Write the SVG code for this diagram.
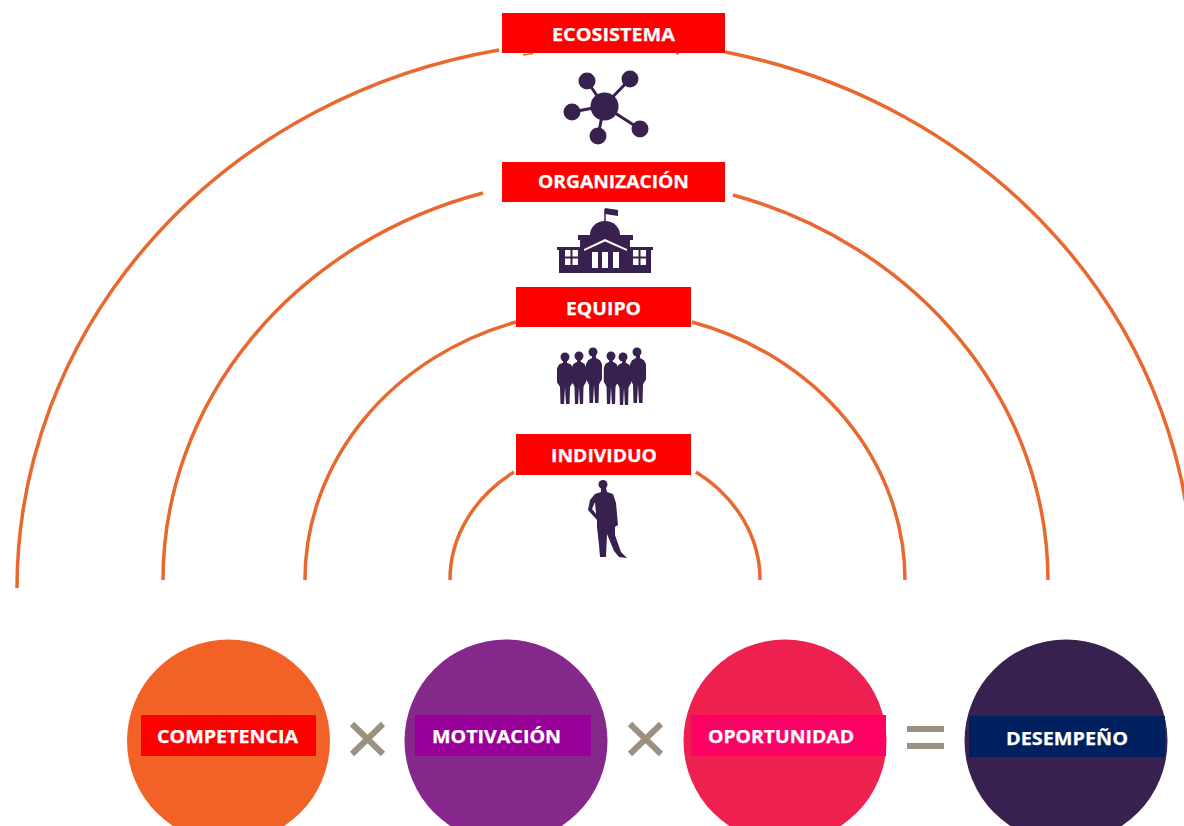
<svg xmlns="http://www.w3.org/2000/svg" xmlns:xlink="http://www.w3.org/1999/xlink" width="1184" height="826" viewBox="0 0 1184 826">
<style>
.arc{fill:none;stroke:#E9682F;stroke-width:3.500}
.lbl{font-family:"Open Sans","Liberation Sans",sans-serif;font-weight:700;font-size:18px;fill:#fff;stroke:#fff;stroke-width:.25}
.ic{fill:#38214E}
.icl{stroke:#38214E;stroke-width:3;fill:none}
.op{stroke:#9C9080;stroke-width:6;fill:none}
.red{fill:#FF0000}
</style>
<defs>
<path id="p" d="M-2 3H2V6L6 8L8 12L8 27L6 30L5 32L4.500 50H1L0 32L-1 50H-4.500L-5 32L-6 30L-8 27L-8 12L-6 8L-2 6Z"/>
</defs>
<rect width="1184" height="826" fill="#fff"/>
<g id="connectors">
<path class="arc" d="M17 588 A588 548 0 0 1 499 50"/>
<path class="arc" d="M725 52 A588 548 0 0 1 1193 588"/>
<path class="arc" d="M163 580 A442.5 403 0 0 1 483 193"/>
<path class="arc" d="M733 195 A442.5 403 0 0 1 1048 580"/>
<path class="arc" d="M305 580 A300 270 0 0 1 516 322"/>
<path class="arc" d="M692 322 A300 270 0 0 1 905 580"/>
<path class="arc" d="M450 580 A155 133 0 0 1 514 472"/>
<path class="arc" d="M696 472 A155 133 0 0 1 760 580"/>
<path class="arc" style="stroke-width:1.500" d="M523 55L533 53.500M676 53.500L679 54"/>
</g>
<g id="ecosistema">
<rect class="red" x="502" y="13" width="223" height="40"/>
<text class="lbl" x="552" y="41" textLength="123" lengthAdjust="spacingAndGlyphs">ECOSISTEMA</text>
<g id="icon-network">
<path class="icl" d="M587 81L604 106M630 79L604 106M572 112L604 106M598 136L604 106M640 129L604 106"/>
<circle class="ic" cx="604.500" cy="106.500" r="14"/>
<circle class="ic" cx="587" cy="81" r="8.500"/>
<circle class="ic" cx="630" cy="79" r="8.500"/>
<circle class="ic" cx="572" cy="112" r="8.500"/>
<circle class="ic" cx="598" cy="136" r="8.500"/>
<circle class="ic" cx="640" cy="129" r="8.500"/>
</g>
</g>
<g id="organizacion">
<rect class="red" x="502" y="162" width="223" height="40"/>
<text class="lbl" x="538" y="188" textLength="151" lengthAdjust="spacingAndGlyphs">ORGANIZACIÓN</text>
<g id="icon-building">
<path class="icl" style="stroke-width:1.500" d="M605 224V209"/>
<path class="ic" d="M605 208L618 210V216L605 214Z"/>
<path class="ic" d="M590 235A15 14 0 0 1 620 235Z"/>
<path class="ic" d="M578 235H633V240H630V247H653V250H651V273H559V250H557V247H580V240H578Z"/>
<path fill="#fff" d="M565 250H578V265H565ZM633 250H646V265H633Z"/>
<path class="ic" d="M570.500 250H572.500V265H570.500ZM565 256.500H578V258.500H565ZM638.500 250H640.500V265H638.500ZM633 256.500H646V258.500H633Z"/>
<path fill="#fff" d="M605 239L627 249V251L605 241.500L584 251V249ZM592 252H598V268H592ZM602 252H608V268H602ZM613 252H619V268H613Z"/>
</g>
</g>
<g id="equipo">
<rect class="red" x="516" y="287" width="175" height="40"/>
<text class="lbl" x="566" y="315" textLength="75" lengthAdjust="spacingAndGlyphs">EQUIPO</text>
<g id="icon-team" class="ic">
<circle cx="565" cy="357" r="4.500"/><use xlink:href="#p" href="#p" transform="translate(565,357) scale(1,.94)"/>
<circle cx="579" cy="356" r="4.500"/><use xlink:href="#p" href="#p" transform="translate(579,356) scale(.9,.96)"/>
<circle cx="593" cy="352" r="4.500"/><use xlink:href="#p" href="#p" transform="translate(594,352) scale(1,1.02)"/>
<circle cx="611" cy="356" r="4.500"/><use xlink:href="#p" href="#p" transform="translate(611,356) scale(.9,.96)"/>
<circle cx="623" cy="357" r="4.500"/><use xlink:href="#p" href="#p" transform="translate(624,357) scale(.9,.96)"/>
<circle cx="637" cy="352" r="4.500"/><use xlink:href="#p" href="#p" transform="translate(638,352) scale(1,1.02)"/>
</g>
</g>
<g id="individuo">
<rect class="red" x="516" y="434" width="175" height="41"/>
<text class="lbl" x="551" y="462" textLength="106" lengthAdjust="spacingAndGlyphs">INDIVIDUO</text>
<g id="icon-person">
<circle class="ic" cx="603" cy="484.500" r="4.500"/>
<path class="ic" fill-rule="evenodd" d="M601 488H606L607 492L613 494L616 503L618 525L615 527L615 535L621 552L627 558L619 557L614 551L607 534L606 557H600L599 545L597 527L597 520L588 510L590 500L595 494L601 492ZM595 502L592 509L596 514Z"/>
</g>
</g>
<g id="competencia">
<circle cx="228.500" cy="741" r="101.500" fill="#F26125"/>
<rect x="141" y="715" width="175" height="41" fill="#FF0000"/>
<text class="lbl" x="157" y="743" textLength="141" lengthAdjust="spacingAndGlyphs">COMPETENCIA</text>
</g>
<g id="op-times-1"><path class="op" d="M352 724L383 754M383 724L352 754"/></g>
<g id="motivacion">
<circle cx="506" cy="741" r="101.500" fill="#86278B"/>
<rect x="415" y="715" width="176" height="41" fill="#990099"/>
<text class="lbl" x="432" y="743" textLength="129" lengthAdjust="spacingAndGlyphs">MOTIVACIÓN</text>
</g>
<g id="op-times-2"><path class="op" d="M630 724L661 754M661 724L630 754"/></g>
<g id="oportunidad">
<circle cx="785" cy="741" r="101.500" fill="#ED2050"/>
<rect x="691" y="715" width="195" height="41" fill="#FF0066"/>
<text class="lbl" x="708" y="743" textLength="146" lengthAdjust="spacingAndGlyphs">OPORTUNIDAD</text>
</g>
<g id="op-equals"><path class="op" d="M907 729H944M907 746H944"/></g>
<g id="desempeno">
<circle cx="1066" cy="741" r="101.500" fill="#38214E"/>
<rect x="969" y="716" width="196" height="41" fill="#002060"/>
<text class="lbl" x="1006" y="745" textLength="122" lengthAdjust="spacingAndGlyphs">DESEMPEÑO</text>
</g>
</svg>
